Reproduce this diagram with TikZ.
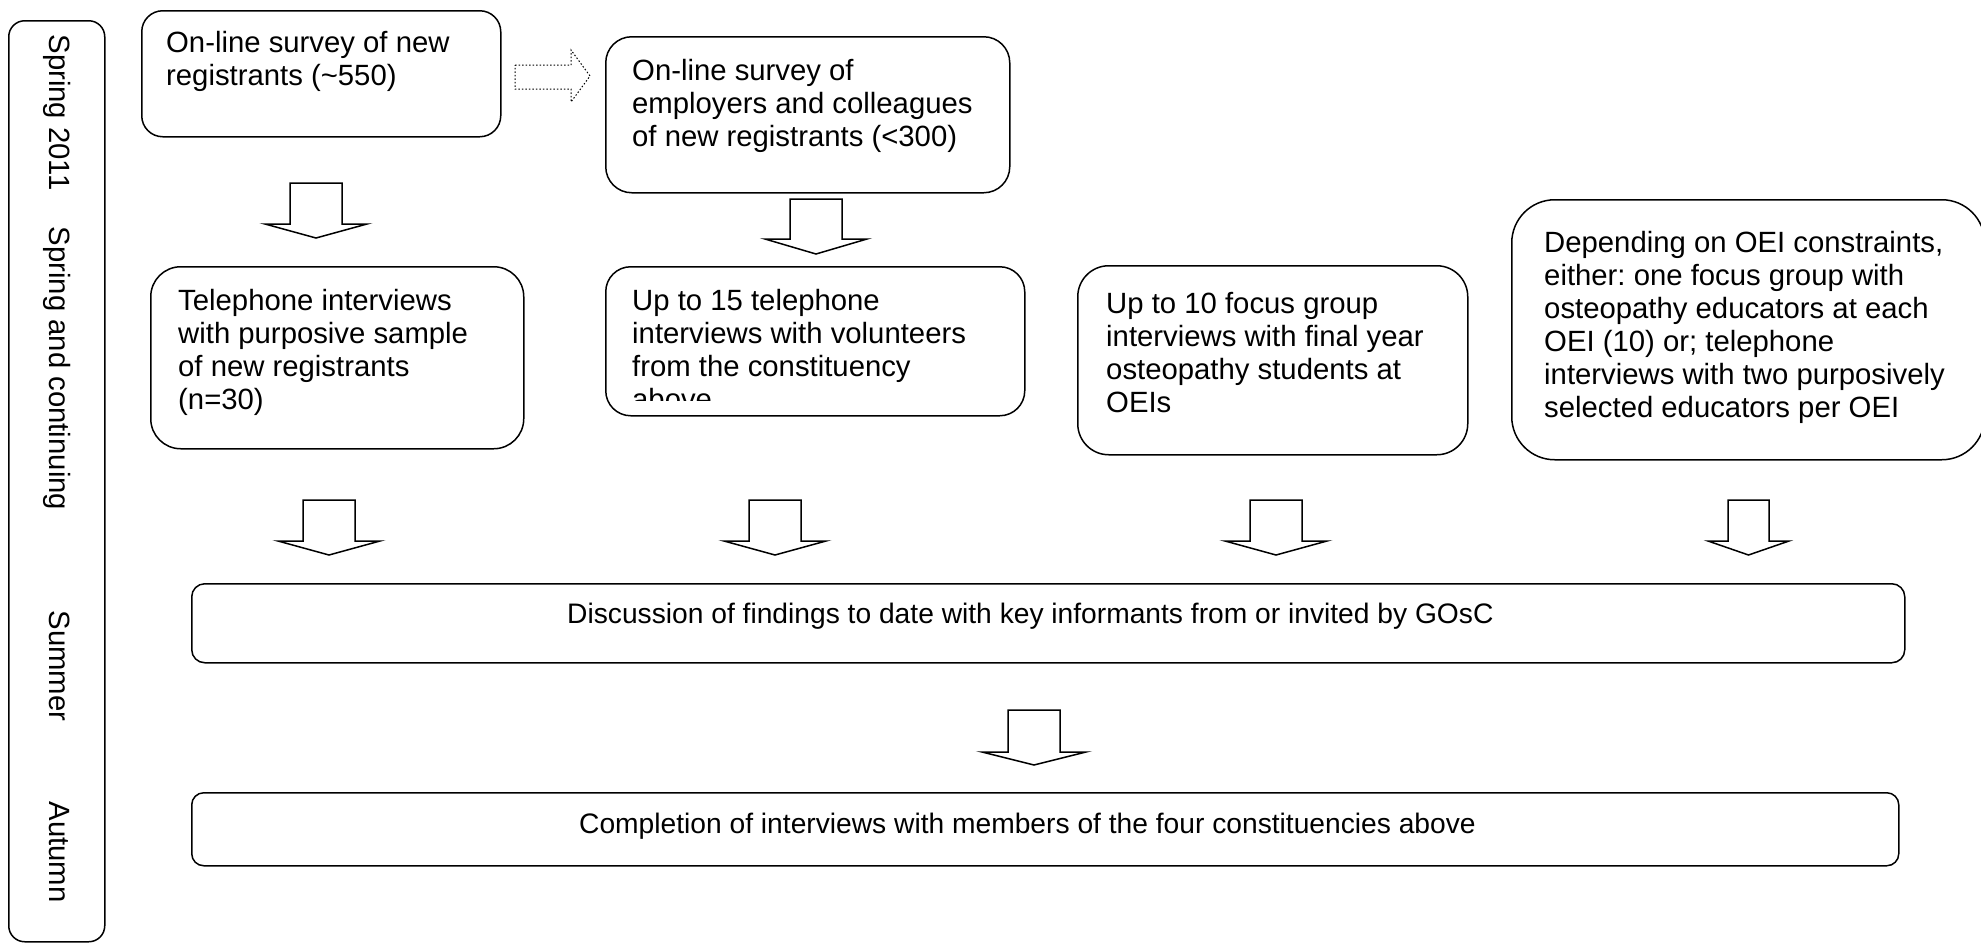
\documentclass[tikz,border=0pt]{standalone}
\usepackage{fontspec}
\setmainfont{Liberation Sans}
\frenchspacing
\begin{document}
\begin{tikzpicture}[x=1pt, y=-1pt]
    \tikzstyle{stage}=[draw, line width=1.5pt, anchor=north west, inner sep=0pt]
    \tikzstyle{txt}=[inner sep=0pt, align=left, anchor=base west, font=\fontsize{29.3}{33}\selectfont]
    \tikzstyle{wide}=[inner sep=0pt, anchor=base west, font=\fontsize{28.2}{33}\selectfont]
    \tikzstyle{season}=[inner sep=0pt, anchor=base, rotate=-90, font=\fontsize{29.3}{33}\selectfont]
    \tikzstyle{blockarrow}=[draw, line width=1.5pt, line join=miter]

    \useasboundingbox (0,0) rectangle (1981,943);

    % time line on the left
    \node (time)[stage, rounded corners=16pt, minimum width=96pt, minimum height=921pt] at (8,20) {};
    \node (spring)[season] at (49,112.5) {Spring 2011};
    \node (cont)[season] at (49,368.5) {Spring and continuing};
    \node (summer)[season] at (49,666) {Summer};
    \node (autumn)[season] at (49,852) {Autumn};

    % boxes
    \node (reg)[stage, rounded corners=21pt, minimum width=359pt, minimum height=126pt] at (141,10) {};
    \node (emp)[stage, rounded corners=26pt, minimum width=404pt, minimum height=156pt] at (605,36) {};
    \node (tel)[stage, rounded corners=30pt, minimum width=373pt, minimum height=182pt] at (150,266) {};
    \node (vol)[stage, rounded corners=25pt, minimum width=419pt, minimum height=149pt] at (605,266) {};
    \node (stu)[stage, rounded corners=31pt, minimum width=390pt, minimum height=189pt] at (1077,265) {};
    \node (edu)[stage, rounded corners=43pt, minimum width=473pt, minimum height=260pt] at (1511,199) {};
    \node (disc)[stage, rounded corners=13pt, minimum width=1713pt, minimum height=79pt] at (191,583) {};
    \node (comp)[stage, rounded corners=12pt, minimum width=1707pt, minimum height=73pt] at (191,792) {};

    % texts (placed by the baseline of their last line)
    \node (regtxt)[txt] at (166,85) {On-line survey of new\\registrants (\textasciitilde550)};
    \node (emptxt)[txt] at (632,146) {On-line survey of\\employers and colleagues\\of new registrants (<300)};
    \node (teltxt)[txt] at (178,409) {Telephone interviews\\with purposive sample\\of new registrants\\(n=30)};
    \begin{scope}
        \clip (605,266) rectangle (1024,400);
        \node (voltxt)[txt] at (632,409) {Up to 15 telephone\\interviews with volunteers\\from the constituency\\above};
    \end{scope}
    \node (stutxt)[txt] at (1106,412) {Up to 10 focus group\\interviews with final year\\osteopathy students at\\OEIs};
    \node (edutxt)[txt] at (1544,417) {Depending on OEI constraints,\\either: one focus group with\\osteopathy educators at each\\OEI (10) or; telephone\\interviews with two purposively\\selected educators per OEI};
    \node (disctxt)[wide] at (567,623) {Discussion of findings to date with key informants from or invited by GOsC};
    \node (comptxt)[wide] at (579,833) {Completion of interviews with members of the four constituencies above};

    % block arrows
    \coordinate (dt) at (515,65);
    \draw[blockarrow, dotted, line width=1pt] (dt) -- ++(56,0) -- ++(0,-15) -- ++(19,26) -- ++(-19,26) -- ++(0,-13) -- ++(-56,0) -- cycle;

    \coordinate (regtel) at (316,183);
    \draw[blockarrow] (regtel) -- ++(26,0) -- ++(0,41) -- ++(25,0) -- ++(-51,14) -- ++(-51,-14) -- ++(25,0) -- ++(0,-41) -- cycle;
    \coordinate (empvol) at (816,199);
    \draw[blockarrow] (empvol) -- ++(26,0) -- ++(0,40) -- ++(25,0) -- ++(-51,15) -- ++(-51,-15) -- ++(25,0) -- ++(0,-40) -- cycle;

    \foreach \x in {329,775,1276}
        \draw[blockarrow] (\x,500) -- ++(26,0) -- ++(0,41) -- ++(25,0) -- ++(-51,14) -- ++(-51,-14) -- ++(25,0) -- ++(0,-41) -- cycle;
    \coordinate (edudisc) at (1748.5,500);
    \draw[blockarrow] (edudisc) -- ++(20.5,0) -- ++(0,41) -- ++(20,0) -- ++(-40.5,14) -- ++(-40.5,-14) -- ++(20,0) -- ++(0,-41) -- cycle;

    \coordinate (disccomp) at (1034,710);
    \draw[blockarrow] (disccomp) -- ++(26,0) -- ++(0,42) -- ++(26,0) -- ++(-52,13) -- ++(-52,-13) -- ++(26,0) -- ++(0,-42) -- cycle;
\end{tikzpicture}
\end{document}
